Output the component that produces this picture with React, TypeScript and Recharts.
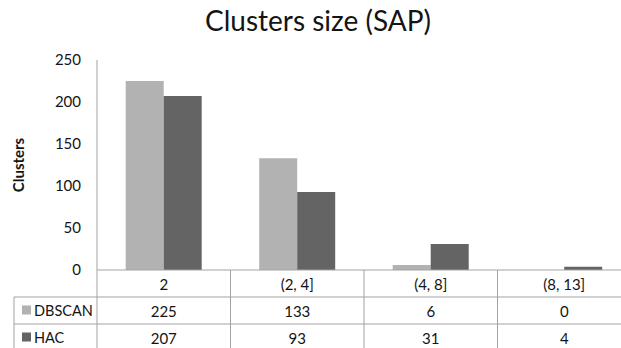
import { BarChart, Bar, XAxis, YAxis } from 'recharts'

const categories = ['2', '(2, 4]', '(4, 8]', '(8, 13]']
const dbscanSizes = [225, 133, 6, 0]
const hacSizes = [207, 93, 31, 4]
const yTicks = [0, 50, 100, 150, 200, 250]

const series = [
  { key: 'DBSCAN', values: dbscanSizes, color: '#b2b2b2' },
  { key: 'HAC', values: hacSizes, color: '#646464' },
]

const data = categories.map((name, i) => ({ name, DBSCAN: dbscanSizes[i], HAC: hacSizes[i] }))

// layout
const W = 640
const H = 348
const PLOT_LEFT = 97
const PLOT_TOP = 60
const AXIS_Y = 270
const BAND = (W - 9 - PLOT_LEFT) / categories.length
const ROW_H = 27
const LINE = '#a3a3a3'
const FONT = 'Lato, sans-serif'
const TEXT = '#141414'

function TableTick(props: any) {
  const { x, payload } = props
  const i = payload.index
  const half = BAND / 2
  const rowY = (r: number) => AXIS_Y + ROW_H * r + ROW_H / 2
  return (
    <g fontFamily={FONT} fontSize={15} fill={TEXT}>
      {i === 0 && (
        <g>
          <line x1={PLOT_LEFT} y1={AXIS_Y} x2={PLOT_LEFT} y2={H} stroke={LINE} />
          <line x1={14} y1={AXIS_Y + ROW_H} x2={14} y2={H} stroke={LINE} />
          {series.map((s, r) => (
            <g key={s.key}>
              <line x1={14} y1={AXIS_Y + ROW_H * (r + 1)} x2={W} y2={AXIS_Y + ROW_H * (r + 1)} stroke={LINE} />
              <rect x={22} y={rowY(r + 1) - 5} width={9} height={9} fill={s.color} />
              <text x={34} y={rowY(r + 1)} dominantBaseline="central" textAnchor="start" fontSize={14.5}>
                {s.key}
              </text>
            </g>
          ))}
        </g>
      )}
      <line x1={x + half} y1={AXIS_Y} x2={x + half} y2={H} stroke={LINE} />
      <text x={x} y={rowY(0)} dominantBaseline="central" textAnchor="middle">
        {payload.value}
      </text>
      {series.map((s, r) => (
        <text key={s.key} x={x} y={rowY(r + 1)} dominantBaseline="central" textAnchor="middle">
          {s.values[i]}
        </text>
      ))}
    </g>
  )
}

function AxisTitle(props: any) {
  const vb = props.viewBox
  const cy = vb.y + vb.height / 2
  return (
    <text
      x={18}
      y={cy}
      transform={`rotate(-90, 18, ${cy})`}
      textAnchor="middle"
      dominantBaseline="central"
      fontFamily={FONT}
      fontWeight="bold"
      fontSize={15}
      fill={TEXT}
    >
      Clusters
    </text>
  )
}

export default function App() {
  return (
    <div style={{ position: 'fixed', left: 0, top: 0, width: 621, height: 348, overflow: 'hidden', background: '#fff' }}>
      <div
        style={{
          position: 'absolute',
          left: 0,
          top: 2,
          width: 636,
          textAlign: 'center',
          fontFamily: FONT,
          fontSize: 28,
          lineHeight: '36px',
          color: TEXT,
        }}
      >
        Clusters size (SAP)
      </div>
      <BarChart
        width={W}
        height={H}
        data={data}
        margin={{ top: PLOT_TOP, right: 9, bottom: 0, left: 0 }}
        barCategoryGap="21.5%"
        barGap={0}
      >
        <XAxis
          dataKey="name"
          height={H - AXIS_Y}
          interval={0}
          axisLine={{ stroke: LINE }}
          tickLine={false}
          tick={<TableTick />}
        />
        <YAxis
          width={PLOT_LEFT}
          domain={[0, 250]}
          ticks={yTicks}
          axisLine={{ stroke: LINE }}
          tickLine={false}
          tickMargin={10}
          tick={{ fontFamily: FONT, fontSize: 15, fill: TEXT }}
          label={<AxisTitle />}
        />
        {series.map((s) => (
          <Bar key={s.key} dataKey={s.key} fill={s.color} isAnimationActive={false} />
        ))}
      </BarChart>
    </div>
  )
}
